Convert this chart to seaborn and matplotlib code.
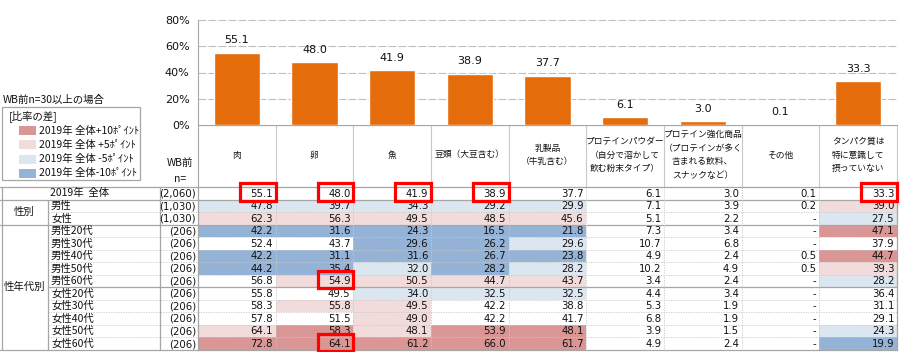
import numpy as np
import pandas as pd
import matplotlib
matplotlib.use("Agg")
import matplotlib.pyplot as plt
import seaborn as sns
from matplotlib.colors import ListedColormap
from matplotlib.patches import Rectangle

# ---------------- data ----------------
categories = ["肉", "卵", "魚", "豆類（大豆含む）", "乳製品\n（牛乳含む）",
              "プロテインパウダー\n（自分で溶かして\n飲む粉末タイプ）",
              "プロテイン強化商品\n（プロテインが多く\n含まれる飲料、\nスナックなど）",
              "その他", "タンパク質は\n特に意識して\n摂っていない"]
row_labels = ["2019年  全体", "男性", "女性", "男性20代", "男性30代", "男性40代", "男性50代",
              "男性60代", "女性20代", "女性30代", "女性40代", "女性50代", "女性60代"]
n_labels = ["(2,060)", "(1,030)", "(1,030)", "(206)", "(206)", "(206)", "(206)",
            "(206)", "(206)", "(206)", "(206)", "(206)", "(206)"]
group_labels = ["性別", "性年代別"]

overall = [55.1, 48.0, 41.9, 38.9, 37.7, 6.1, 3.0, 0.1, 33.3]
male = [47.8, 39.7, 34.3, 29.2, 29.9, 7.1, 3.9, 0.2, 39.0]
female = [62.3, 56.3, 49.5, 48.5, 45.6, 5.1, 2.2, np.nan, 27.5]
m20 = [42.2, 31.6, 24.3, 16.5, 21.8, 7.3, 3.4, np.nan, 47.1]
m30 = [52.4, 43.7, 29.6, 26.2, 29.6, 10.7, 6.8, np.nan, 37.9]
m40 = [42.2, 31.1, 31.6, 26.7, 23.8, 4.9, 2.4, 0.5, 44.7]
m50 = [44.2, 35.4, 32.0, 28.2, 28.2, 10.2, 4.9, 0.5, 39.3]
m60 = [56.8, 54.9, 50.5, 44.7, 43.7, 3.4, 2.4, np.nan, 28.2]
f20 = [55.8, 49.5, 34.0, 32.5, 32.5, 4.4, 3.4, np.nan, 36.4]
f30 = [58.3, 55.8, 49.5, 42.2, 38.8, 5.3, 1.9, np.nan, 31.1]
f40 = [57.8, 51.5, 49.0, 42.2, 41.7, 6.8, 1.9, np.nan, 29.1]
f50 = [64.1, 58.3, 48.1, 53.9, 48.1, 3.9, 1.5, np.nan, 24.3]
f60 = [72.8, 64.1, 61.2, 66.0, 61.7, 4.9, 2.4, np.nan, 19.9]

# highlighted (red-boxed) cells: (row index, column index)
highlights = [(0, 0), (0, 1), (0, 2), (0, 3), (0, 8), (7, 1), (12, 1)]

legend_labels = ["2019年 全体+10ﾎﾟｲﾝﾄ", "2019年 全体 +5ﾎﾟｲﾝﾄ",
                 "2019年 全体 -5ﾎﾟｲﾝﾄ", "2019年 全体-10ﾎﾟｲﾝﾄ"]

# ---------------- style ----------------
sns.set_style("white")
plt.rcParams["font.family"] = ["Noto Sans CJK JP", "DejaVu Sans"]
NUMFONT = ["DejaVu Sans"]

ORANGE = "#E46C0A"
DK_RED, LT_RED = "#DA9694", "#F2DCDB"
LT_BLUE, DK_BLUE = "#DCE6F1", "#95B3D7"
GRID = "#BFBFBF"
LINE = "#A6A6A6"
TXT = "#111111"

W, H = 900, 352
fig = plt.figure(figsize=(W / 100, H / 100), dpi=100)

def fx(px):
    return px / W

def fy(py):
    return 1 - py / H

X0, X1 = 198, 897
BAR_TOP, BAR_BOT = 20, 125
TAB_TOP, TAB_BOT = 187, 350
ncol = len(categories)
nrow = len(row_labels)
col_w = (X1 - X0) / ncol
row_h = (TAB_BOT - TAB_TOP) / nrow

# ---------------- bar chart ----------------
axB = fig.add_axes([fx(X0), fy(BAR_BOT), fx(X1 - X0), (BAR_BOT - BAR_TOP) / H])
bar_df = pd.DataFrame({"cat": [c.replace("\n", "") for c in categories], "val": overall})
sns.barplot(data=bar_df, x="cat", y="val", color=ORANGE, saturation=1, width=0.6, ax=axB)
axB.set_xlim(-0.5, ncol - 0.5)
axB.set_ylim(0, 80)
axB.set_yticks([0, 20, 40, 60, 80])
axB.set_yticklabels([f"{t}%" for t in [0, 20, 40, 60, 80]], fontsize=8, color=TXT,
                    family=NUMFONT)
axB.tick_params(axis="y", length=0, pad=6)
axB.set_xticks([])
axB.set_xlabel("")
axB.set_ylabel("")
axB.yaxis.grid(True, color=GRID, linestyle=(0, (7, 2)), linewidth=0.8)
axB.set_axisbelow(True)
for s in ["top", "right", "bottom"]:
    axB.spines[s].set_visible(False)
axB.spines["left"].set_color(LINE)
axB.spines["left"].set_linewidth(0.8)
for i, v in enumerate(overall):
    axB.text(i, v + 9.5, f"{v:.1f}", ha="center", va="center", fontsize=8, color=TXT,
             family=NUMFONT)

# ---------------- table (heatmap) ----------------
rows = [overall, male, female, m20, m30, m40, m50, m60, f20, f30, f40, f50, f60]
vals = np.array(rows, dtype=float)
diff = vals - np.array(overall)[None, :]
codes = np.zeros_like(vals)
codes[diff >= 10] = 2
codes[(diff >= 5) & (diff < 10)] = 1
codes[(diff <= -5) & (diff > -10)] = -1
codes[diff <= -10] = -2
codes[np.isnan(vals)] = 0
codes[0, :] = 0

axT = fig.add_axes([fx(X0), fy(TAB_BOT), fx(X1 - X0), (TAB_BOT - TAB_TOP) / H])
cmap = ListedColormap([DK_BLUE, LT_BLUE, "white", LT_RED, DK_RED])
sns.heatmap(pd.DataFrame(codes, index=row_labels), ax=axT, cmap=cmap, vmin=-2.5, vmax=2.5,
            cbar=False, xticklabels=False, yticklabels=False, linewidths=0)
axT.set_xlabel("")
axT.set_ylabel("")

for i in range(nrow):
    for j in range(ncol):
        v = vals[i, j]
        s = "-" if np.isnan(v) else f"{v:.1f}"
        axT.text(j + 0.965, i + 0.52, s, ha="right", va="center", fontsize=7.3, color=TXT,
                 family=NUMFONT)

# inner grid
for k in range(1, nrow):
    solid = k in (1, 3, 8)
    axT.plot([0, ncol], [k, k], color=LINE if solid else "#C8C8C8",
             lw=0.9 if solid else 0.6, ls="-" if solid else (0, (1.5, 1.5)))
for j in range(1, ncol):
    axT.plot([j, j], [0, nrow], color="#C8C8C8", lw=0.6, ls=(0, (1.5, 1.5)))
for sp in axT.spines.values():
    sp.set_visible(True)
    sp.set_color(LINE)
    sp.set_linewidth(0.9)

for (i, j) in highlights:
    axT.add_patch(Rectangle((j + 0.54, i - 0.3), 0.46, 1.38, fill=False,
                            edgecolor="#FF0000", lw=2.3, clip_on=False, zorder=5))

# ---------------- overlay for headers / labels / legend ----------------
ax0 = fig.add_axes([0, 0, 1, 1], zorder=-1)
ax0.set_xlim(0, W)
ax0.set_ylim(H, 0)
ax0.axis("off")

# header verticals & text
for j in range(ncol + 1):
    x = X0 + j * col_w
    ax0.plot([x, x], [BAR_BOT, TAB_TOP], color=LINE if j == 0 else "#C8C8C8", lw=0.8)
ax0.plot([X0, X1], [BAR_BOT, BAR_BOT], color=LINE, lw=0.9)
for j, c in enumerate(categories):
    ax0.text(X0 + (j + 0.5) * col_w, 155, c, ha="center", va="center", fontsize=6.3,
             color=TXT, linespacing=1.65)

ax0.text(180, 163, "WB前", ha="center", va="center", fontsize=7.5, color=TXT)
ax0.text(180, 179, "n=", ha="center", va="center", fontsize=7.5, color=TXT)

# left table labels
def yb(k):
    return TAB_TOP + k * row_h

ax0.plot([0, X0], [yb(0), yb(0)], color=LINE, lw=0.9)
ax0.plot([0, X0], [yb(1), yb(1)], color=LINE, lw=0.9)
ax0.plot([0, X0], [yb(3), yb(3)], color=LINE, lw=0.9)
ax0.plot([0, X0], [yb(13), yb(13)], color=LINE, lw=0.9)
for k in range(2, 13):
    if k == 3:
        continue
    if k == 8:
        ax0.plot([48, X0], [yb(k), yb(k)], color=LINE, lw=0.9)
    else:
        ax0.plot([48, X0], [yb(k), yb(k)], color="#C8C8C8", lw=0.6, ls=(0, (1.5, 1.5)))
ax0.plot([1.5, 1.5], [yb(0), yb(13)], color=LINE, lw=0.9)
ax0.plot([48, 48], [yb(1), yb(13)], color=LINE, lw=0.9)
ax0.plot([160, 160], [yb(0), yb(13)], color=LINE, lw=0.9)

for i in range(nrow):
    yc = yb(i) + row_h / 2
    if i == 0:
        ax0.text(80, yc, row_labels[i], ha="center", va="center", fontsize=7.5, color=TXT)
    else:
        ax0.text(51, yc, row_labels[i], ha="left", va="center", fontsize=7.5, color=TXT)
    ax0.text(196, yc + 0.3, n_labels[i], ha="right", va="center", fontsize=7.3, color=TXT,
             family=NUMFONT)
ax0.text(24, (yb(1) + yb(3)) / 2, group_labels[0], ha="center", va="center", fontsize=7.5, color=TXT)
ax0.text(24, (yb(3) + yb(13)) / 2, group_labels[1], ha="center", va="center", fontsize=7.5, color=TXT)

# legend
ax0.text(3, 100, "WB前n=30以上の場合", ha="left", va="center", fontsize=7.5, color=TXT)
ax0.add_patch(Rectangle((2, 107), 138, 73, fill=False, edgecolor=LINE, lw=0.9))
ax0.text(9, 116, "[比率の差]", ha="left", va="center", fontsize=7.5, color=TXT)
for k, (lab, col) in enumerate(zip(legend_labels, [DK_RED, LT_RED, LT_BLUE, DK_BLUE])):
    yc = 130.5 + k * 14.3
    ax0.add_patch(Rectangle((19, yc - 4.5), 17, 9, facecolor=col, edgecolor="none"))
    ax0.text(39, yc, lab, ha="left", va="center", fontsize=7.5, color=TXT)

fig.savefig("out.png", dpi=100)
